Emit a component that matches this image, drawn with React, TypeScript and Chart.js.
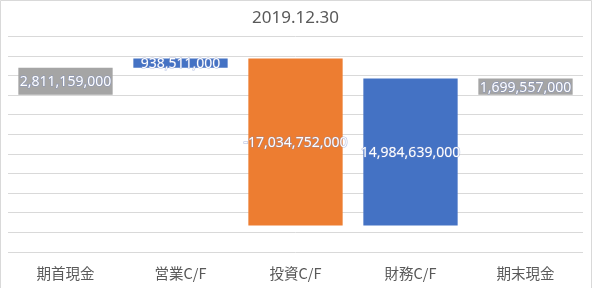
import React, { useEffect, useRef } from "react";
import { Chart, registerables } from "chart.js";

Chart.register(...registerables);

const titleText = "2019.12.30";
const categories = ["期首現金", "営業C/F", "投資C/F", "財務C/F", "期末現金"];
const amounts = [2811159000, 938511000, -17034752000, 14984639000, 1699557000];
const kinds = ["total", "delta", "delta", "delta", "total"];
const barColors = ["#a5a5a5", "#4472c4", "#ed7d31", "#4472c4", "#a5a5a5"];
const yMin = -16000000000;
const yMax = 6000000000;
const yStep = 2000000000;

export default function App() {
  const ref = useRef<HTMLCanvasElement | null>(null);

  useEffect(() => {
    document.body.style.margin = "0";
    const canvas = ref.current;
    if (!canvas) return;

    let running = 0;
    const floating: [number, number][] = amounts.map((v, i) => {
      if (kinds[i] === "total") {
        running = v;
        return [0, v];
      }
      const start = running;
      running = start + v;
      return [start, running];
    });

    const bgPlugin = {
      id: "bgBorder",
      beforeDraw(chart: any) {
        const ctx = chart.ctx;
        ctx.save();
        ctx.fillStyle = "#ffffff";
        ctx.fillRect(0, 0, chart.width, chart.height);
        ctx.strokeStyle = "#d9d9d9";
        ctx.lineWidth = 1;
        ctx.beginPath();
        ctx.moveTo(0.5, chart.height);
        ctx.lineTo(0.5, 0.5);
        ctx.lineTo(591.5, 0.5);
        ctx.lineTo(591.5, chart.height);
        ctx.stroke();
        ctx.restore();
      },
    };

    const labelPlugin = {
      id: "barLabels",
      afterDatasetsDraw(chart: any) {
        const ctx = chart.ctx;
        const meta = chart.getDatasetMeta(0);
        ctx.save();
        ctx.font = '14px "Noto Sans", "DejaVu Sans", sans-serif';
        ctx.textAlign = "center";
        ctx.textBaseline = "middle";
        meta.data.forEach((el: any, i: number) => {
          const cy = (el.y + el.base) / 2;
          const txt = amounts[i].toLocaleString("en-US");
          ctx.lineWidth = 1.2;
          ctx.strokeStyle = "rgba(120,140,200,0.55)";
          ctx.strokeText(txt, el.x, cy + 1);
          ctx.fillStyle = "#ffffff";
          ctx.fillText(txt, el.x, cy + 1);
        });
        ctx.restore();
      },
    };

    const chart = new Chart(canvas, {
      type: "bar",
      data: {
        labels: categories,
        datasets: [
          {
            data: floating as any,
            backgroundColor: barColors,
            borderWidth: 0,
            barPercentage: 0.82,
            categoryPercentage: 1,
          },
        ],
      },
      options: {
        animation: false,
        responsive: false,
        maintainAspectRatio: false,
        layout: { padding: { left: 8, right: 10, top: 0, bottom: 0 } },
        plugins: {
          legend: { display: false },
          tooltip: { enabled: false },
          title: {
            display: true,
            text: titleText,
            color: "#595959",
            font: { family: '"Noto Sans", sans-serif', size: 17, weight: "normal" },
            padding: { top: 8, bottom: 8 },
          },
        },
        scales: {
          x: {
            grid: { display: false, drawTicks: false },
            border: { display: false },
            afterFit: (scale: any) => {
              scale.height = 36;
            },
            ticks: {
              color: "#595959",
              padding: 13,
              font: { family: '"Noto Sans CJK JP", "Noto Sans", sans-serif', size: 14.5 },
            },
          },
          y: {
            min: yMin,
            max: yMax,
            ticks: { display: false, stepSize: yStep },
            grid: { color: "#d9d9d9", lineWidth: 1, drawTicks: false },
            border: { display: false },
          },
        },
      },
      plugins: [bgPlugin, labelPlugin],
    });

    return () => chart.destroy();
  }, []);

  return (
    <div style={{ width: 593, height: 288 }}>
      <canvas ref={ref} width={593} height={288} style={{ display: "block" }} />
    </div>
  );
}
